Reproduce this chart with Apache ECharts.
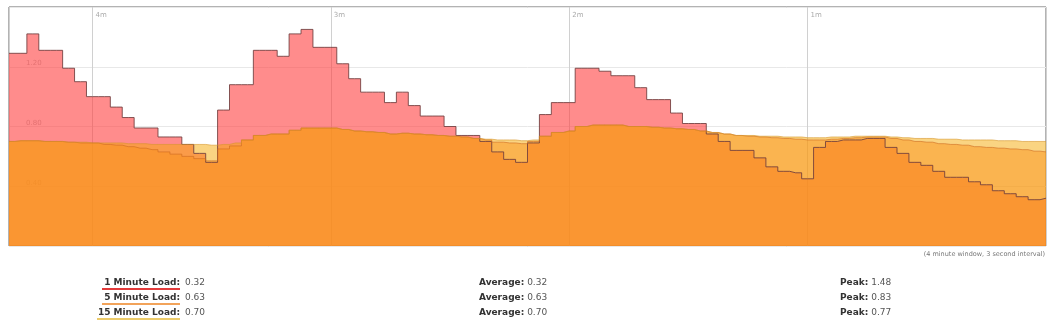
<!DOCTYPE html>
<html>
<head>
    <meta charset="utf-8">
    <title>Load</title>
    <script src="https://cdn.jsdelivr.net/npm/echarts@6.0.0/dist/echarts.min.js"></script>
    <style>
        html, body { margin: 0; padding: 0; background: #fff; }
        #chartmain { width: 1051px; height: 323px; }
    </style>
</head>
<body>
    <div id="chartmain"></div>

    <script type="text/javascript">
        // samples every 3 seconds, oldest first (left) to newest (right)
        var load1 = [
            1.29, 1.29, 1.42, 1.31, 1.31, 1.19, 1.10, 1.00, 1.00, 0.93,
            0.86, 0.79, 0.79, 0.73, 0.73, 0.68, 0.62, 0.56, 0.91, 1.08,
            1.08, 1.31, 1.31, 1.27, 1.42, 1.45, 1.33, 1.33, 1.22, 1.12,
            1.03, 1.03, 0.96, 1.03, 0.94, 0.87, 0.87, 0.80, 0.74, 0.74,
            0.70, 0.63, 0.58, 0.56, 0.69, 0.88, 0.96, 0.96, 1.19, 1.19,
            1.17, 1.14, 1.14, 1.06, 0.98, 0.98, 0.89, 0.82, 0.82, 0.75,
            0.70, 0.64, 0.64, 0.59, 0.53, 0.50, 0.49, 0.45, 0.66, 0.70,
            0.71, 0.71, 0.72, 0.72, 0.66, 0.62, 0.56, 0.54, 0.50, 0.46,
            0.46, 0.43, 0.41, 0.37, 0.35, 0.33, 0.31, 0.32
        ];
        var load5 = [
            0.70, 0.705, 0.705, 0.70, 0.70, 0.695, 0.69, 0.69, 0.68, 0.675,
            0.665, 0.655, 0.645, 0.63, 0.615, 0.60, 0.585, 0.57, 0.65, 0.67,
            0.71, 0.74, 0.75, 0.75, 0.775, 0.79, 0.79, 0.79, 0.78, 0.77,
            0.765, 0.76, 0.75, 0.755, 0.75, 0.745, 0.74, 0.735, 0.73, 0.72,
            0.71, 0.695, 0.69, 0.685, 0.70, 0.735, 0.76, 0.77, 0.80, 0.81,
            0.81, 0.81, 0.80, 0.80, 0.795, 0.79, 0.785, 0.78, 0.77, 0.76,
            0.75, 0.74, 0.735, 0.73, 0.725, 0.72, 0.715, 0.71, 0.71, 0.715,
            0.72, 0.725, 0.73, 0.73, 0.72, 0.71, 0.70, 0.695, 0.685, 0.68,
            0.675, 0.665, 0.66, 0.655, 0.65, 0.645, 0.635, 0.63
        ];
        var load15 = [
            0.70, 0.705, 0.705, 0.70, 0.70, 0.695, 0.695, 0.69, 0.69, 0.69,
            0.685, 0.685, 0.68, 0.68, 0.68, 0.68, 0.68, 0.675, 0.68, 0.69,
            0.71, 0.74, 0.75, 0.75, 0.775, 0.79, 0.79, 0.79, 0.78, 0.77,
            0.765, 0.76, 0.75, 0.755, 0.75, 0.745, 0.74, 0.735, 0.73, 0.72,
            0.715, 0.71, 0.71, 0.705, 0.71, 0.735, 0.76, 0.77, 0.80, 0.81,
            0.81, 0.81, 0.80, 0.80, 0.795, 0.79, 0.785, 0.78, 0.77, 0.76,
            0.75, 0.74, 0.74, 0.735, 0.735, 0.73, 0.73, 0.725, 0.725, 0.73,
            0.73, 0.735, 0.735, 0.735, 0.73, 0.725, 0.72, 0.72, 0.715, 0.715,
            0.71, 0.71, 0.71, 0.705, 0.705, 0.70, 0.70, 0.70
        ];

        var seriesNames = ['1 Minute Load', '5 Minute Load', '15 Minute Load'];
        var currentVals = ['0.32', '0.63', '0.70'];
        var averageVals = ['0.32', '0.63', '0.70'];
        var peakVals = ['1.48', '0.83', '0.77'];
        var minuteTicks = [60, 120, 180, 240];

        var sampleStep = 3; // seconds
        var windowSec = 261;

        var myChart = echarts.init(document.getElementById('chartmain'));

        function pairs(arr) {
            return arr.map(function (v, i) {
                return [(arr.length - 1 - i) * sampleStep, v];
            });
        }

        var fills = ['rgba(255,63,63,0.6)', 'rgba(255,122,47,0.48)', 'rgba(245,169,5,0.5)'];
        var strokes = ['rgba(110,60,60,0.85)', 'rgba(205,105,30,0.6)', 'rgba(215,150,40,0.6)'];
        var unders = ['#e23b3b', '#f2a35a', '#eccb6a'];
        var allData = [load1, load5, load15];

        var series = allData.map(function (arr, k) {
            return {
                name: seriesNames[k],
                type: 'line',
                step: 'middle',
                showSymbol: false,
                animation: false,
                data: pairs(arr),
                lineStyle: { color: strokes[k], width: 1 },
                areaStyle: { color: fills[k], opacity: 1 }
            };
        });

        // the little table under the chart
        var rowsY = [283, 298, 313];
        var font = 'DejaVu Sans';
        var graphics = [];
        rowsY.forEach(function (y, k) {
            graphics.push({
                type: 'text', right: 1051 - 180, top: y - 5,
                style: { text: seriesNames[k] + ':', fontFamily: font, fontSize: 9, fontWeight: 'bold', fill: '#333' }
            });
            graphics.push({
                type: 'text', left: 185, top: y - 5,
                style: { text: currentVals[k], fontFamily: font, fontSize: 9, fill: '#555' }
            });
            graphics.push({
                type: 'line',
                shape: { x1: k === 2 ? 97 : 102, y1: y + 6, x2: 180, y2: y + 6 },
                style: { stroke: unders[k], lineWidth: 2 }
            });
            graphics.push({
                type: 'text', left: 479, top: y - 5,
                style: {
                    text: '{b|Average:} ' + averageVals[k],
                    fontFamily: font, fontSize: 9, fill: '#555',
                    rich: { b: { fontWeight: 'bold', fontFamily: font, fontSize: 9, fill: '#333' } }
                }
            });
            graphics.push({
                type: 'text', left: 840, top: y - 5,
                style: {
                    text: '{b|Peak:} ' + peakVals[k],
                    fontFamily: font, fontSize: 9, fill: '#555',
                    rich: { b: { fontWeight: 'bold', fontFamily: font, fontSize: 9, fill: '#333' } }
                }
            });
        });
        graphics.push({
            type: 'text', right: 6, top: 251,
            style: { text: '(4 minute window, 3 second interval)', fontFamily: font, fontSize: 6.5, fill: '#777' }
        });

        myChart.setOption({
            backgroundColor: '#fff',
            animation: false,
            grid: {
                left: 9, right: 5, top: 7, bottom: 77,
                show: true, borderColor: '#666', borderWidth: 1, backgroundColor: '#fff'
            },
            xAxis: {
                type: 'value',
                inverse: true,
                position: 'top',
                min: 0,
                max: windowSec,
                interval: 60,
                axisLine: { show: false },
                axisTick: { show: false },
                splitLine: { show: true, lineStyle: { color: '#d0d0d0', width: 1 } },
                axisLabel: {
                    inside: true,
                    margin: 5,
                    align: 'left',
                    padding: [0, 0, 0, 3],
                    color: '#aaa',
                    fontSize: 7,
                    fontFamily: font,
                    formatter: function (v) {
                        return minuteTicks.indexOf(v) >= 0 ? (v / 60) + 'm' : '';
                    }
                }
            },
            yAxis: {
                type: 'value',
                min: 0,
                max: 1.6,
                interval: 0.4,
                axisLine: { show: false },
                axisTick: { show: false },
                splitLine: { show: true, lineStyle: { color: '#e8e8e8' } },
                axisLabel: {
                    inside: true,
                    margin: 17,
                    verticalAlign: 'bottom',
                    showMinLabel: false,
                    showMaxLabel: false,
                    color: '#bbb',
                    fontSize: 7,
                    fontFamily: font,
                    formatter: function (v) { return v.toFixed(2); }
                }
            },
            series: series,
            graphic: graphics
        });
    </script>
</body>
</html>
